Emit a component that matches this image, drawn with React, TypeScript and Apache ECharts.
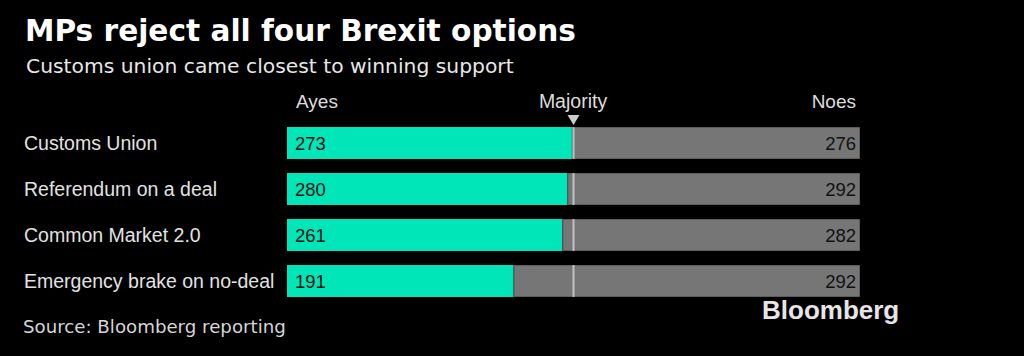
import React, { useEffect, useRef } from "react";
import * as echarts from "echarts";

const categories = [
  "Customs Union",
  "Referendum on a deal",
  "Common Market 2.0",
  "Emergency brake on no-deal",
];
const ayes = [273, 280, 261, 191];
const noes = [276, 292, 282, 292];
const majorityPct = 50;

const TEAL = "#00e6b9";
const GRAY = "#767676";

export default function App() {
  const ref = useRef<HTMLDivElement>(null);
  useEffect(() => {
    document.body.style.margin = "0";
    document.body.style.background = "#000";
    const chart = echarts.init(ref.current!, undefined, { renderer: "svg" });
    const ayesPct = ayes.map((a, i) => (a / (a + noes[i])) * 100);
    const noesPct = noes.map((n, i) => (n / (ayes[i] + n)) * 100);
    chart.setOption({
      animation: false,
      backgroundColor: "#000",
      grid: { left: 287, right: 164, top: 120, height: 184, containLabel: false },
      xAxis: { type: "value", min: 0, max: 100, show: false },
      yAxis: {
        type: "category",
        data: categories,
        inverse: true,
        axisLine: { show: false },
        axisTick: { show: false },
        splitLine: { show: false },
        axisLabel: {
          align: "left",
          margin: 263,
          color: "#e2e2e2",
          fontSize: 19.5,
          fontFamily: "Liberation Sans",
        },
      },
      series: [
        {
          name: "Ayes",
          type: "bar",
          stack: "v",
          data: ayesPct,
          barWidth: 32,
          itemStyle: { color: TEAL },
          label: {
            show: true,
            position: "insideLeft",
            distance: 8,
            formatter: (p: any) => String(ayes[p.dataIndex]),
            color: "#111",
            fontSize: 18.5,
            fontFamily: "Liberation Sans",
          },
        },
        {
          name: "Noes",
          type: "bar",
          stack: "v",
          data: noesPct,
          barWidth: 32,
          itemStyle: { color: GRAY, borderColor: "#5e5e5e", borderWidth: 1 },
          label: {
            show: true,
            position: "insideRight",
            distance: 4,
            formatter: (p: any) => String(noes[p.dataIndex]),
            color: "#111",
            fontSize: 18.5,
            fontFamily: "Liberation Sans",
          },
        },
        {
          name: "Majority line",
          type: "scatter",
          data: categories.map((c) => [majorityPct, c]),
          symbol: "rect",
          symbolSize: [2, 32],
          itemStyle: { color: "#d4d4d4" },
          z: 5,
          silent: true,
        },
        {
          name: "Majority marker",
          type: "scatter",
          data: [[majorityPct, categories[0]]],
          symbol: "triangle",
          symbolRotate: 180,
          symbolSize: [12, 10],
          symbolOffset: [0, -23],
          itemStyle: { color: "#ffffff" },
          z: 6,
          silent: true,
        },
      ],
      graphic: [
        {
          type: "text",
          left: 25,
          top: 16,
          style: {
            text: "MPs reject all four Brexit options",
            fill: "#ffffff",
            font: "bold 29.6px 'DejaVu Sans'",
          },
        },
        {
          type: "text",
          left: 26,
          top: 56,
          style: {
            text: "Customs union came closest to winning support",
            fill: "#e8e8e8",
            font: "20.3px 'DejaVu Sans'",
          },
        },
        {
          type: "text",
          x: 296,
          y: 101,
          style: {
            text: "Ayes",
            fill: "#dddddd",
            font: "19px 'Liberation Sans'",
            verticalAlign: "middle",
            align: "left",
          },
        },
        {
          type: "text",
          x: 573,
          y: 101,
          style: {
            text: "Majority",
            fill: "#dddddd",
            font: "19.5px 'Liberation Sans'",
            verticalAlign: "middle",
            align: "center",
          },
        },
        {
          type: "text",
          x: 856,
          y: 101,
          style: {
            text: "Noes",
            fill: "#dddddd",
            font: "19px 'Liberation Sans'",
            verticalAlign: "middle",
            align: "right",
          },
        },
        {
          type: "text",
          x: 23,
          y: 326,
          style: {
            text: "Source: Bloomberg reporting",
            fill: "#d6d6d6",
            font: "18.2px 'DejaVu Sans'",
            verticalAlign: "middle",
          },
        },
        {
          type: "text",
          x: 762,
          y: 310,
          style: {
            text: "Bloomberg",
            fill: "#e6e6e6",
            font: "bold 26px 'Liberation Sans'",
            verticalAlign: "middle",
          },
        },
      ],
    });
    return () => chart.dispose();
  }, []);
  return <div ref={ref} style={{ width: 1024, height: 356 }} />;
}
